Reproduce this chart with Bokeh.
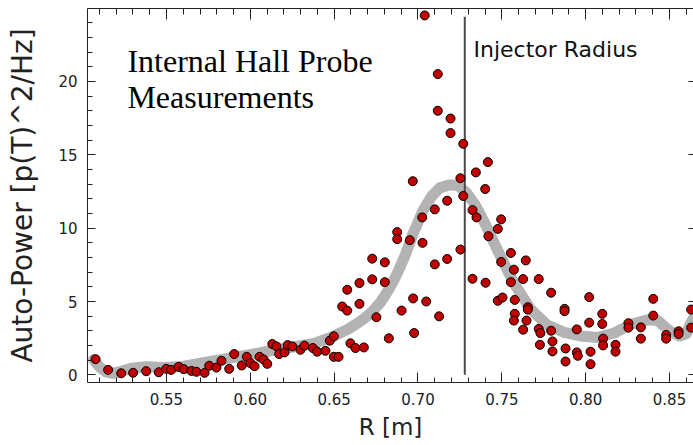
from bokeh.plotting import figure
from bokeh.models import (LinearAxis, SingleIntervalTicker, NumeralTickFormatter,
                          Range1d, Label, ColumnDataSource)
from bokeh.embed import file_html
from bokeh.resources import INLINE

# ---- data ----
radius_m = [
    0.5077, 0.5152, 0.5230, 0.5301, 0.5379, 0.5454, 0.5498, 0.5528, 0.5573, 0.5603,
    0.5649, 0.5679, 0.5727, 0.5755, 0.5798, 0.5828, 0.5874, 0.5904, 0.5949, 0.5979,
    0.6001, 0.6025, 0.6055, 0.6079, 0.6101, 0.6131, 0.6156, 0.6172,
    0.6204, 0.6223, 0.6250, 0.6299, 0.6323, 0.6373, 0.6399, 0.6448, 0.6474, 0.6498,
    0.6498, 0.6526, 0.6548, 0.6578, 0.6578, 0.6597, 0.6627, 0.6651, 0.6651, 0.6677,
    0.6727, 0.6727, 0.6752, 0.6802, 0.6802, 0.6826, 0.6876, 0.6876, 0.6902, 0.6951,
    0.6971, 0.6977, 0.7025, 0.7027, 0.7049, 0.7100, 0.7100, 0.7126, 0.7174, 0.7174,
    0.7253, 0.7325, 0.7325, 0.7349,
    0.7270, 0.7417, 0.7345, 0.6969, 0.7253, 0.7401, 0.7270, 0.7496, 0.7476, 0.7420,
    0.7554, 0.7643, 0.7496, 0.7572, 0.7403, 0.7554, 0.7627, 0.7040, 0.7118, 0.7118,
    0.7194, 0.7194,
    0.7720, 0.7476, 0.7504, 0.7577, 0.7577, 0.7572, 0.7655, 0.7655, 0.7647, 0.7627,
    0.7794, 0.7720, 0.7730, 0.7794, 0.7727, 0.7802, 0.7802, 0.7874, 0.7874, 0.7880,
    0.7880, 0.7947, 0.7947, 0.7953, 0.8021, 0.8021, 0.8029, 0.8029, 0.8099, 0.8099,
    0.8104, 0.8104, 0.8178, 0.8178, 0.8255, 0.8255, 0.8329, 0.8329, 0.8403, 0.8403,
    0.8480, 0.8480, 0.8554, 0.8554, 0.8629, 0.8629,
]
auto_power = [
    1.07, 0.34, 0.11, 0.14, 0.25, 0.18, 0.41, 0.34, 0.55, 0.39,
    0.27, 0.21, 0.14, 0.62, 0.50, 0.96, 0.41, 1.42, 0.64, 1.23,
    0.80, 0.59, 1.23, 1.05, 0.75, 2.10, 1.94, 1.42,
    1.53, 2.03, 1.94, 1.71, 1.99, 1.83, 1.58, 1.64, 2.33, 2.63,
    1.23, 1.23, 4.66, 5.80, 4.38, 2.15, 1.83, 6.26, 4.84, 1.87,
    7.92, 6.51, 3.93, 7.67, 6.32, 2.49, 9.73, 9.25, 4.38, 9.18,
    5.21, 2.85, 10.73, 9.00, 5.00, 11.28, 7.53, 3.99, 11.87, 7.90,
    8.54, 6.55, 11.23, 10.73,
    15.75, 14.50, 13.80, 13.20, 13.40, 12.67, 12.19, 10.60, 9.95, 9.45,
    8.31, 7.80, 7.70, 7.17, 6.28, 6.32, 6.53, 24.5, 20.5, 18.0,
    17.47, 16.48,
    6.53, 5.05, 5.27, 5.11, 4.16, 3.70, 4.61, 4.45, 3.70, 3.08,
    5.60, 3.13, 2.85, 3.01, 2.05, 2.28, 1.60, 4.50, 4.34, 1.80,
    0.91, 3.10, 1.53, 1.30, 5.30, 3.56, 1.58, 0.73, 4.16, 3.47,
    2.47, 2.01, 2.05, 1.58, 3.52, 3.22, 3.24, 2.47, 5.18, 4.04,
    2.72, 2.47, 2.97, 2.79, 4.45, 3.22,
]

# smooth fit curve
fit_r = [0.5065, 0.5100, 0.5140, 0.5180, 0.5230, 0.5290, 0.5380, 0.5480, 0.5580, 0.5680,
         0.5780, 0.5880, 0.5980, 0.6080, 0.6180, 0.6280, 0.6380, 0.6480, 0.6580, 0.6630,
         0.6680, 0.6730, 0.6780, 0.6830, 0.6880, 0.6925, 0.6970, 0.7030, 0.7080, 0.7130,
         0.7190, 0.7240, 0.7290, 0.7340, 0.7400, 0.7470, 0.7570, 0.7670, 0.7770, 0.7870,
         0.7970, 0.8070, 0.8170, 0.8270, 0.8370, 0.8430, 0.8500, 0.8560, 0.8600, 0.8625,
         0.8650]
fit_p = [1.05, 0.55, 0.20, 0.10, 0.25, 0.45, 0.55, 0.50, 0.55, 0.75,
         0.95, 1.15, 1.35, 1.55, 1.75, 1.95, 2.15, 2.55, 3.10, 3.45,
         3.85, 4.35, 5.00, 5.90, 7.00, 8.20, 9.60, 11.20, 12.15, 12.75,
         12.95, 12.90, 12.40, 11.60, 10.30, 8.60, 6.30, 4.50, 3.40, 2.90,
         2.65, 2.55, 2.85, 3.45, 3.75, 3.70, 3.00, 2.65, 2.80, 3.50,
         4.00]

injector_radius = [0.7279, 0.7279]
injector_span = [0.0, 24.4]

# ---- figure ----
p = figure(width=693, height=445,
           x_range=Range1d(0.5029, 0.8643), y_range=Range1d(-0.52, 24.97),
           output_backend="svg", toolbar_location=None,
           min_border_left=87, min_border_right=0, min_border_top=8, min_border_bottom=63)
p.xgrid.visible = False
p.ygrid.visible = False
p.outline_line_color = None
p.background_fill_color = "white"
p.border_fill_color = "white"

p.line(fit_r, fit_p, line_color="#b3b3b3", line_width=11,
       line_join="round", line_cap="round")
p.line(injector_radius, injector_span, line_color="#4a4a4a", line_width=2)
src = ColumnDataSource(dict(r=radius_m, pw=auto_power))
p.scatter("r", "pw", source=src, size=9, fill_color="#c00000",
          line_color="black", line_width=1)

tick_font = "DejaVu Sans"

# bottom axis
xa = p.xaxis[0]
xa.ticker = SingleIntervalTicker(interval=0.05, num_minor_ticks=5)
xa.formatter = NumeralTickFormatter(format="0.00")
xa.major_tick_in = 10
xa.major_tick_out = 0
xa.minor_tick_in = 5
xa.minor_tick_out = 0
xa.major_label_standoff = 10
xa.major_label_text_font = tick_font
xa.major_label_text_font_size = "15px"
xa.major_label_text_color = "#222222"
xa.axis_label = "R [m]"
xa.axis_label_text_font = tick_font
xa.axis_label_text_font_style = "normal"
xa.axis_label_text_font_size = "23px"
xa.axis_label_text_color = "#222222"
xa.axis_label_standoff = 6
xa.axis_line_color = "#222222"
xa.major_tick_line_color = "#222222"
xa.minor_tick_line_color = "#222222"

# left axis
ya = p.yaxis[0]
ya.ticker = SingleIntervalTicker(interval=5, num_minor_ticks=5)
ya.major_tick_in = 8
ya.major_tick_out = 0
ya.minor_tick_in = 5
ya.minor_tick_out = 0
ya.major_label_standoff = 10
ya.major_label_text_font = tick_font
ya.major_label_text_font_size = "15px"
ya.major_label_text_color = "#222222"
ya.axis_label = "Auto-Power [p(T)^2/Hz]"
ya.axis_label_text_font = tick_font
ya.axis_label_text_font_style = "normal"
ya.axis_label_text_font_size = "28px"
ya.axis_label_text_color = "#222222"
ya.axis_label_standoff = 16
ya.axis_line_color = "#222222"
ya.major_tick_line_color = "#222222"
ya.minor_tick_line_color = "#222222"

# top axis: ticks only
top = LinearAxis(ticker=SingleIntervalTicker(interval=0.05, num_minor_ticks=5),
                 major_tick_in=11, major_tick_out=0, minor_tick_in=6, minor_tick_out=0,
                 major_label_text_font_size="1px", major_label_text_color=None,
                 major_label_standoff=0,
                 axis_line_color="#222222", major_tick_line_color="#222222",
                 minor_tick_line_color="#222222")
p.add_layout(top, "above")

# right axis: major ticks only, no line
right = LinearAxis(ticker=SingleIntervalTicker(interval=5, num_minor_ticks=0),
                   major_tick_in=5, major_tick_out=0, minor_tick_in=0, minor_tick_out=0,
                   major_label_text_font_size="1px", major_label_text_color=None,
                   major_label_standoff=0,
                   axis_line_color=None, major_tick_line_color="#222222")
p.add_layout(right, "right")

# annotations
p.add_layout(Label(x=0.5267, y=21.40, text="Internal Hall Probe",
                   text_font="Liberation Serif", text_font_size="32px",
                   text_color="black", text_baseline="alphabetic"))
p.add_layout(Label(x=0.5267, y=18.91, text="Measurements",
                   text_font="Liberation Serif", text_font_size="32px",
                   text_color="black", text_baseline="alphabetic"))
p.add_layout(Label(x=0.7331, y=22.15, text="Injector Radius",
                   text_font="DejaVu Sans", text_font_size="22px",
                   text_color="#111111", text_baseline="alphabetic"))

open("out.html", "w").write(file_html(p, INLINE))
